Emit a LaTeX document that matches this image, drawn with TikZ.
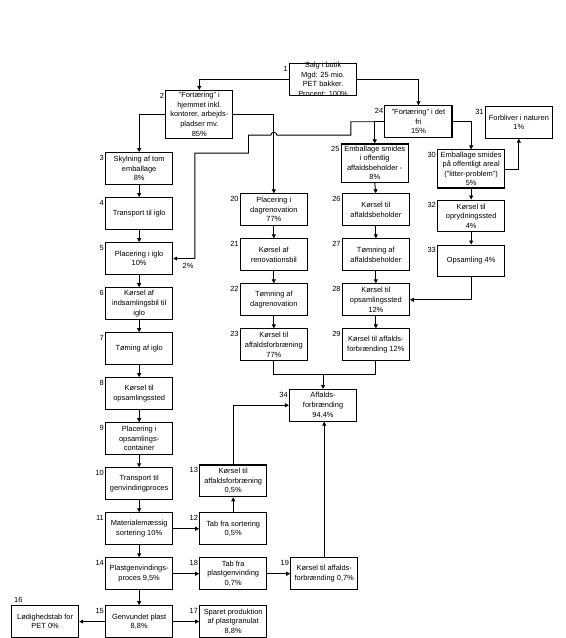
\documentclass[tikz,border=0pt]{standalone}
\usepackage{fontspec}
\setmainfont{Liberation Sans}
\usetikzlibrary{arrows.meta, positioning, calc}
\tikzset{
  box/.style  ={draw=black, line width=1.1pt, minimum width=67.5pt,
                minimum height=32pt, align=center, inner xsep=1pt,
                inner ysep=2pt, font=\fontsize{7.5}{9.6}\selectfont},
  num/.style  ={font=\fontsize{7.5}{9}\selectfont, inner sep=1pt,
                anchor=north east, yshift=-2pt},
  nr/.style   ={label={[num]north west:#1}},
  pct/.style  ={font=\fontsize{7.5}{9}\selectfont, inner sep=1pt},
  line/.style ={line width=0.9pt, draw=black},
  flow/.style ={line, -{Triangle[length=4pt,width=4pt]}}
}
\begin{document}
\begin{tikzpicture}[x=1pt, y=-1pt, node distance=12.2pt and 26pt]
  \fill[white] (0,0) rectangle (569,638);

  % Salg og fortaering
  \node[box, nr=1, inner ysep=-2pt] (n1) at (325,80)
       {Salg i butik\\Mgd: 25 mio.\\PET bakker.\\Procent: 100\%};
  \node[box, nr=2] (n2) at (200.5,115)
       {"Fortæring" i\\hjemmet inkl.\\kontorer, arbejds-\\pladser mv.\\85\%};
  \node[box, nr=24] (n24) at (421,122.5) {"Fortæring" i det\\fri\\15\%};
  \node[box, nr=31] (n31) at (522,123) {Forbliver i naturen\\1\%};

  % Genanvendelse via iglo
  \node[box, nr=3] (n3) at (140,169.5) {Skylning af tom\\emballage\\8\%};
  \node[box, nr=4, below=of n3] (n4) {Transport til iglo};
  \node[box, nr=5, below=of n4] (n5) {Placering i iglo\\10\%};
  \node[box, nr=6, below=of n5] (n6) {Kørsel af\\indsamlingsbil til\\iglo};
  \node[box, nr=7, below=of n6] (n7) {Tøming af iglo};
  \node[box, nr=8, below=of n7] (n8) {Kørsel til\\opsamlingssted};
  \node[box, nr=9, below=of n8] (n9) {Placering i\\opsamlings-\\container};
  \node[box, nr=10, below=of n9] (n10) {Transport til\\genvindingproces};
  \node[box, nr=11, below=of n10] (n11) {Materialemæssig\\sortering 10\%};
  \node[box, nr=14, below=of n11] (n14) {Plastgenvindings-\\proces 9,5\%};
  \node[box, nr=15, below=15pt of n14] (n15) {Genvundet plast\\8,8\%};
  \node[box, left=of n15,
        label={[num, anchor=south west, xshift=2pt, yshift=3pt]north west:16}]
       (n16) {Lødighedstab for\\PET 0\%};

  % Tab fra genvinding
  \node[box, nr=12, right=of n11] (n12) {Tab fra sortering\\0,5\%};
  \node[box, nr=13, above=15pt of n12] (n13) {Kørsel til\\affaldsforbræning\\0,5\%};
  \node[box, nr=18, right=of n14] (n18) {Tab fra\\plastgenvinding\\0,7\%};
  \node[box, nr=19, right=23pt of n18] (n19) {Kørsel til affalds-\\forbrænding 0,7\%};
  \node[box, nr=17, right=of n15] (n17) {Sparet produktion\\af plastgranulat\\8,8\%};

  % Dagrenovation
  \node[box, nr=20] (n20) at (275.5,211) {Placering i\\dagrenovation\\77\%};
  \node[box, nr=21, below=of n20] (n21) {Kørsel af\\renovationsbil};
  \node[box, nr=22, below=of n21] (n22) {Tømning af\\dagrenovation};
  \node[box, nr=23, below=of n22] (n23) {Kørsel til\\affaldsforbræning\\77\%};

  % Offentlig affaldsbeholder
  \node[box, nr=25] (n25) at (377,164)
       {Emballage smides\\i offentlig\\affaldsbeholder -\\8\%};
  \node[box, nr=26, right=34pt of n20] (n26) {Kørsel til\\affaldsbeholder};
  \node[box, nr=27, below=of n26] (n27) {Tømning af\\affaldsbeholder};
  \node[box, nr=28, below=of n27] (n28) {Kørsel til\\opsamlingssted\\12\%};
  \node[box, nr=29, below=of n28] (n29) {Kørsel til affalds-\\forbrænding 12\%};

  % Litter
  \node[box, nr=30] (n30) at (474,170)
       {Emballage smides\\på offentligt areal\\("litter-problem")\\5\%};
  \node[box, nr=32, below=11pt of n30] (n32) {Kørsel til\\oprydningssted\\4\%};
  \node[box, nr=33, below=of n32] (n33) {Opsamling 4\%};

  % Forbraending
  \node[box, nr=34] (n34) at (325,407.7) {Affalds-\\forbrænding\\94,4\%};

  % forbindelser
  \draw[flow] (n1.west) -| (n2.north);
  \draw[flow] (n1.east) -| (n24.north);
  \draw[flow] (n2.west) -| (n3.north);
  \draw[flow] (n2.east) -| (n20.north);
  \draw[flow] (n24.west) -| (n25.north);
  \draw[flow] (n24.east) -| (n30.north);
  \draw[flow] (n30.east) -| (n31.south);

  \coordinate (j24) at (n25.north |- n24.west);
  \coordinate (hop) at (n20.north |- 0,136);
  \draw[flow] (j24) -- ++(-24,0) |- ([xshift=3pt]hop)
      arc[start angle=0, end angle=-180, radius=3] -- ++(-22.5,0)
      |- ++(-54,18)
      |- node[pct, anchor=north east, yshift=-3pt] {2\%} (n5.east);

  \foreach \a/\b in {n3/n4, n4/n5, n5/n6, n6/n7, n7/n8, n8/n9, n9/n10,
                     n10/n11, n11/n14, n14/n15, n20/n21, n21/n22, n22/n23,
                     n25/n26, n26/n27, n27/n28, n28/n29, n30/n32, n32/n33}
    \draw[flow] (\a.south) -- (\b.north);

  \draw[flow] (n33.south) |- (n28.east);

  \coordinate (merge) at ($(n34.north)+(0,-14)$);
  \draw[line] (n23.south) |- (merge) -| (n29.south);
  \draw[flow] (merge) -- (n34.north);

  \draw[flow] (n11.east) -- (n12.west);
  \draw[flow] (n12.north) -- (n13.south);
  \draw[flow] (n13.north) |- (n34.west);
  \draw[flow] (n14.east) -- (n18.west);
  \draw[flow] (n18.east) -- (n19.west);
  \draw[flow] (n19.north) -- (n19.north |- n34.south);
  \draw[flow] (n15.east) -- (n17.west);
  \draw[flow] (n15.west) -- (n16.east);
\end{tikzpicture}
\end{document}
